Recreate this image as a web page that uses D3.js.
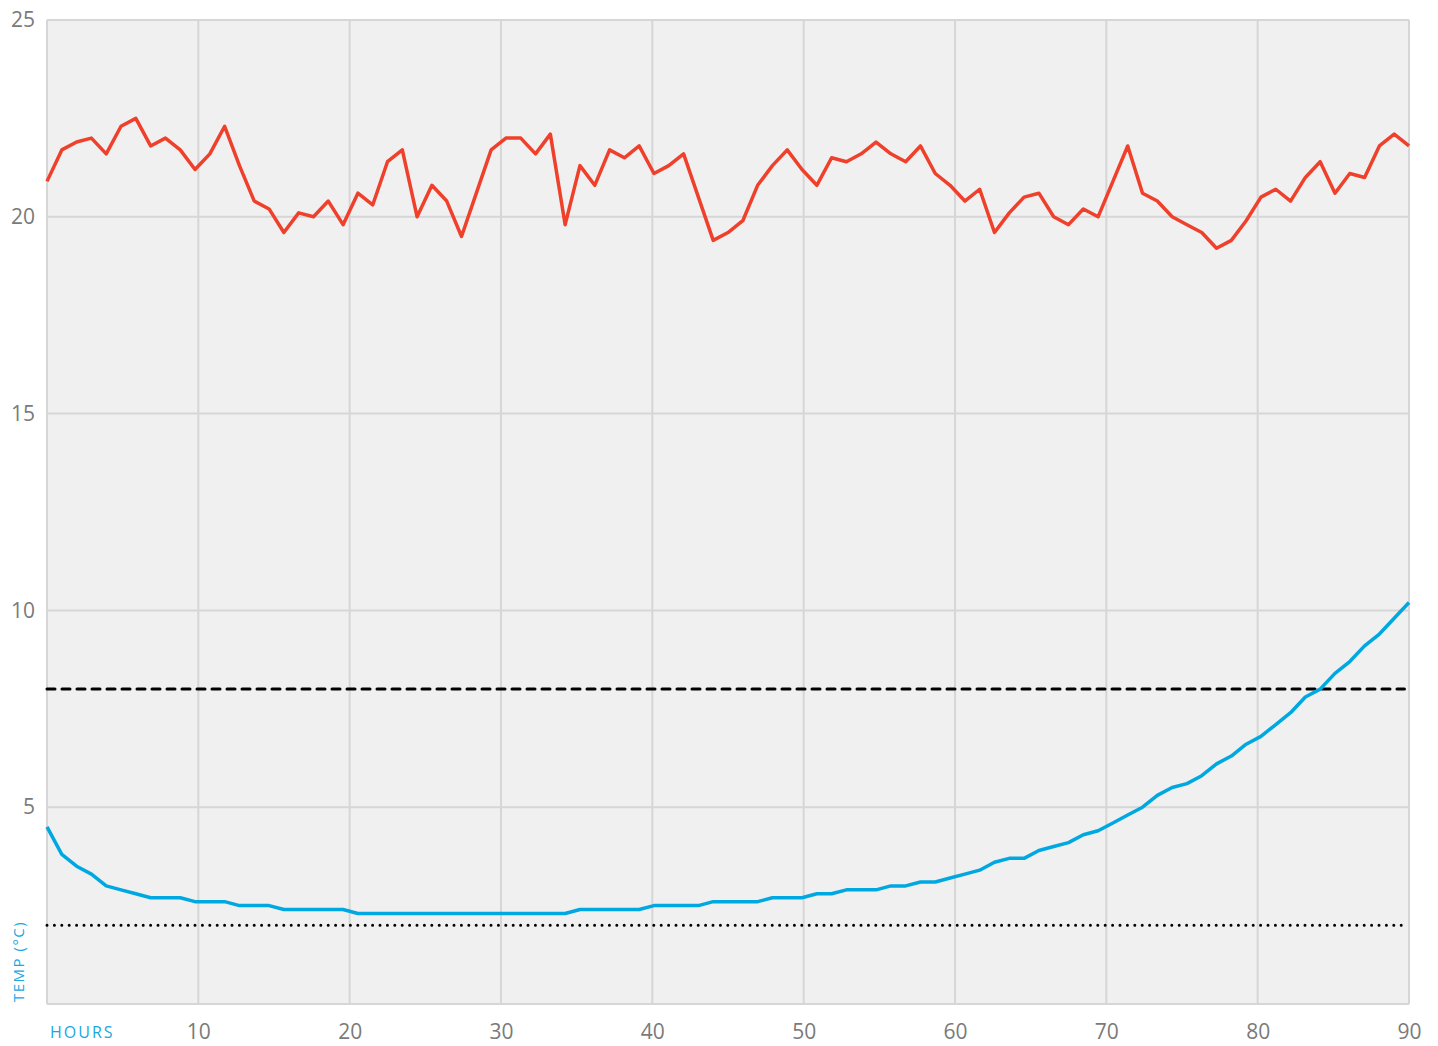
<!DOCTYPE html>
<html>
<head>
<meta charset="utf-8">
<script src="https://cdn.jsdelivr.net/npm/d3@7"></script>
<style>
  body { margin: 0; background: #fff; }
  svg text { font-family: "Open Sans", sans-serif; }
</style>
</head>
<body>
<div id="chart"></div>
<script>
// readings, one every ~0.98 h from 0 to 90 hours
var redTemps = [20.9, 21.7, 21.9, 22.0, 21.6, 22.3, 22.5, 21.8, 22.0, 21.7,
    21.2, 21.6, 22.3, 21.3, 20.4, 20.2, 19.6, 20.1, 20.0, 20.4,
    19.8, 20.6, 20.3, 21.4, 21.7, 20.0, 20.8, 20.4, 19.5, 20.6,
    21.7, 22.0, 22.0, 21.6, 22.1, 19.8, 21.3, 20.8, 21.7, 21.5,
    21.8, 21.1, 21.3, 21.6, 20.5, 19.4, 19.6, 19.9, 20.8, 21.3,
    21.7, 21.2, 20.8, 21.5, 21.4, 21.6, 21.9, 21.6, 21.4, 21.8,
    21.1, 20.8, 20.4, 20.7, 19.6, 20.1, 20.5, 20.6, 20.0, 19.8,
    20.2, 20.0, 20.9, 21.8, 20.6, 20.4, 20.0, 19.8, 19.6, 19.2,
    19.4, 19.9, 20.5, 20.7, 20.4, 21.0, 21.4, 20.6, 21.1, 21.0,
    21.8, 22.1, 21.8];

var blueTemps = [4.5, 3.8, 3.5, 3.3, 3.0, 2.9, 2.8, 2.7, 2.7, 2.7,
    2.6, 2.6, 2.6, 2.5, 2.5, 2.5, 2.4, 2.4, 2.4, 2.4,
    2.4, 2.3, 2.3, 2.3, 2.3, 2.3, 2.3, 2.3, 2.3, 2.3,
    2.3, 2.3, 2.3, 2.3, 2.3, 2.3, 2.4, 2.4, 2.4, 2.4,
    2.4, 2.5, 2.5, 2.5, 2.5, 2.6, 2.6, 2.6, 2.6, 2.7,
    2.7, 2.7, 2.8, 2.8, 2.9, 2.9, 2.9, 3.0, 3.0, 3.1,
    3.1, 3.2, 3.3, 3.4, 3.6, 3.7, 3.7, 3.9, 4.0, 4.1,
    4.3, 4.4, 4.6, 4.8, 5.0, 5.3, 5.5, 5.6, 5.8, 6.1,
    6.3, 6.6, 6.8, 7.1, 7.4, 7.8, 8.0, 8.4, 8.7, 9.1,
    9.4, 9.8, 10.2];

var upperLimit = 8;
var lowerLimit = 2;
var xTicks = [0, 10, 20, 30, 40, 50, 60, 70, 80, 90];
var yTicks = [0, 5, 10, 15, 20, 25];

var margin = { top: 20, right: 29, bottom: 42, left: 47 },
    width = 1438 - margin.left - margin.right,
    height = 1046 - margin.top - margin.bottom;

var svg = d3.select("#chart")
    .append("svg")
    .attr("width", 1438)
    .attr("height", 1046)
    .append("g")
    .attr("transform", "translate(" + margin.left + "," + margin.top + ")");

var x = d3.scaleLinear().domain([0, 90]).range([0, width]);
var y = d3.scaleLinear().domain([0, 25]).range([height, 0]);

// hour of each reading
function hourOf(i, n) { return i * 90 / (n - 1); }

svg.append("rect")
    .attr("width", width)
    .attr("height", height)
    .style("fill", "#f0f0f0");

// grid
svg.append("g")
    .selectAll("line")
    .data(yTicks)
    .enter().append("line")
    .attr("x1", 0).attr("x2", width)
    .attr("y1", function (d) { return y(d); })
    .attr("y2", function (d) { return y(d); })
    .style("stroke", "#d6d6d6")
    .style("stroke-width", 2);

svg.append("g")
    .selectAll("line")
    .data(xTicks)
    .enter().append("line")
    .attr("y1", 0).attr("y2", height)
    .attr("x1", function (d) { return x(d); })
    .attr("x2", function (d) { return x(d); })
    .style("stroke", "#d6d6d6")
    .style("stroke-width", 2);

// axes, labels only
var yAxis = svg.append("g")
    .call(d3.axisLeft(y).tickValues(yTicks.filter(function (d) { return d > 0; })).tickSize(0).tickPadding(12));
var xAxis = svg.append("g")
    .attr("transform", "translate(0," + height + ")")
    .call(d3.axisBottom(x).tickValues(xTicks.filter(function (d) { return d > 0; })).tickSize(0).tickPadding(20));

[yAxis, xAxis].forEach(function (a) {
    a.select(".domain").remove();
    a.selectAll("text")
        .style("font-size", "21px")
        .style("fill", "#7a7a7a");
});

// limit lines
svg.append("line")
    .attr("x1", x(0)).attr("x2", x(89.7))
    .attr("y1", y(upperLimit)).attr("y2", y(upperLimit))
    .style("stroke", "#000")
    .style("stroke-width", 3)
    .style("stroke-linecap", "round")
    .style("stroke-dasharray", "8,7");

svg.append("line")
    .attr("x1", x(0)).attr("x2", x(89.7))
    .attr("y1", y(lowerLimit)).attr("y2", y(lowerLimit))
    .style("stroke", "#000")
    .style("stroke-width", 3)
    .style("stroke-linecap", "round")
    .style("stroke-dasharray", "0,7.4");

var line = d3.line()
    .x(function (d, i, arr) { return x(hourOf(i, arr.length)); })
    .y(function (d) { return y(d); });

svg.append("path")
    .datum(redTemps)
    .attr("fill", "none")
    .attr("stroke", "#ef402b")
    .attr("stroke-width", 3.5)
    .attr("stroke-linejoin", "round")
    .attr("d", line);

svg.append("path")
    .datum(blueTemps)
    .attr("fill", "none")
    .attr("stroke", "#00a8e1")
    .attr("stroke-width", 3.5)
    .attr("stroke-linejoin", "round")
    .attr("d", line);

// axis titles
svg.append("text")
    .attr("x", 3)
    .attr("y", height + 34)
    .style("font-size", "16px")
    .style("letter-spacing", "2px")
    .style("fill", "#1aa7df")
    .text("HOURS");

svg.append("text")
    .attr("transform", "translate(-23," + (height - 2) + ") rotate(-90)")
    .style("font-size", "15px")
    .style("letter-spacing", "1.5px")
    .style("fill", "#1aa7df")
    .text("TEMP (°C)");
</script>
</body>
</html>
